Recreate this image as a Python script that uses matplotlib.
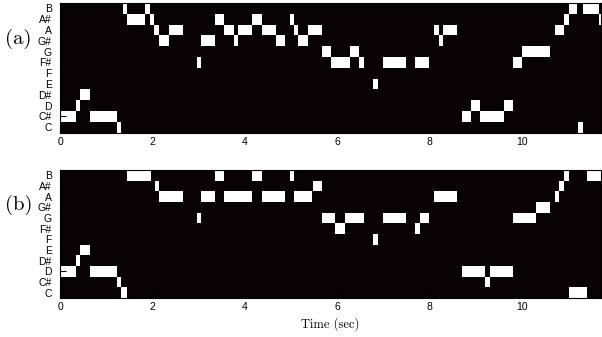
import matplotlib
matplotlib.use("Agg")
import matplotlib.pyplot as plt

plt.rcParams['font.family'] = ['Liberation Sans', 'DejaVu Sans']

# 音高名称（自下而上）
notes = ['C', 'C#', 'D', 'D#', 'E', 'F', 'F#', 'G', 'G#', 'A', 'A#', 'B']
xticks = [0, 2, 4, 6, 8, 10]
t_max = 11.71

# (a) 音符片段: (音名, 起始秒, 结束秒)
segs_a = [
    ('C#', 0.00, 0.34), ('D', 0.34, 0.43), ('D#', 0.43, 0.64), ('C#', 0.65, 1.23),
    ('C', 1.23, 1.33), ('B', 1.36, 1.44), ('A#', 1.45, 1.84), ('B', 1.84, 1.94),
    ('A#', 1.94, 2.04), ('A', 2.04, 2.14), ('G#', 2.14, 2.36), ('A', 2.36, 2.66),
    ('F#', 2.97, 3.06), ('G#', 3.06, 3.36), ('A#', 3.36, 3.56), ('A', 3.56, 3.77),
    ('G#', 3.77, 3.86), ('A', 3.86, 4.16), ('A#', 4.16, 4.37), ('A', 4.37, 4.68),
    ('G#', 4.68, 4.87), ('A#', 4.98, 5.06), ('A', 5.06, 5.16), ('G#', 5.16, 5.36),
    ('A', 5.36, 5.66), ('G', 5.68, 5.87), ('F#', 5.87, 6.28), ('G', 6.28, 6.48),
    ('F#', 6.48, 6.58), ('E', 6.78, 6.88), ('F#', 6.99, 7.49), ('F#', 7.69, 7.98),
    ('A', 8.10, 8.20), ('G#', 8.20, 8.30), ('A', 8.30, 8.59), ('C#', 8.71, 8.90),
    ('D', 8.90, 9.09), ('C#', 9.09, 9.61), ('D', 9.61, 9.80), ('F#', 9.80, 10.00),
    ('G', 10.00, 10.61), ('A', 10.71, 10.91), ('A#', 10.91, 11.01), ('B', 11.01, 11.20),
    ('C', 11.21, 11.31), ('B', 11.32, 11.67), ('A#', 11.67, 11.71),
]

# (b) 音符片段
segs_b = [
    ('D', 0.00, 0.34), ('D#', 0.34, 0.43), ('E', 0.43, 0.64), ('D', 0.65, 1.23),
    ('C#', 1.23, 1.33), ('C', 1.33, 1.44), ('B', 1.45, 1.98), ('A#', 2.05, 2.14),
    ('A', 2.14, 2.66), ('G', 2.97, 3.06), ('A', 3.06, 3.36), ('B', 3.36, 3.55),
    ('A', 3.56, 4.16), ('B', 4.16, 4.37), ('A', 4.37, 4.87), ('B', 4.98, 5.06),
    ('A', 5.06, 5.46), ('A#', 5.47, 5.66), ('G', 5.67, 5.96), ('F#', 5.96, 6.16),
    ('G', 6.16, 6.58), ('F', 6.78, 6.88), ('G', 6.99, 7.49), ('F#', 7.69, 7.79),
    ('G', 7.79, 7.98), ('A', 8.10, 8.59), ('D', 8.71, 9.19), ('C#', 9.19, 9.30),
    ('D', 9.30, 9.80), ('G', 9.80, 10.30), ('G#', 10.30, 10.61), ('A', 10.71, 10.81),
    ('A#', 10.81, 10.91), ('B', 10.91, 11.01), ('C', 11.01, 11.40), ('B', 11.40, 11.71),
]

fig = plt.figure(figsize=(6.02, 3.37), dpi=100)
ax_a = fig.add_axes([0.0997, 0.6068, 0.8987, 0.3843])
ax_b = fig.add_axes([0.0997, 0.1157, 0.8987, 0.3798])

for ax, segs, tag, ty in [(ax_a, segs_a, '(a)', 0.885), (ax_b, segs_b, '(b)', 0.392)]:
    ax.set_facecolor('#080204')
    for name, t0, t1 in segs:
        k = notes.index(name)
        ax.broken_barh([(t0, t1 - t0)], (k - 0.5, 1.0), facecolors='white', edgecolors='none')
    ax.set_xlim(0, t_max)
    ax.set_ylim(-0.5, 11.5)
    ax.set_yticks(range(12))
    ax.set_yticklabels(notes)
    ax.set_xticks(xticks)
    ax.tick_params(direction='in', length=4, width=0.8, labelsize=7.5, pad=3, color='black')
    ax.tick_params(axis='y', pad=6)
    for s in ax.spines.values():
        s.set_linewidth(0.8)
    fig.text(0.008, ty, tag, fontsize=15, family='cmr10', va='center')

ax_b.set_xlabel('Time (sec)', fontsize=9, family='cmr10', labelpad=4)

plt.savefig('out.png', dpi=100)
